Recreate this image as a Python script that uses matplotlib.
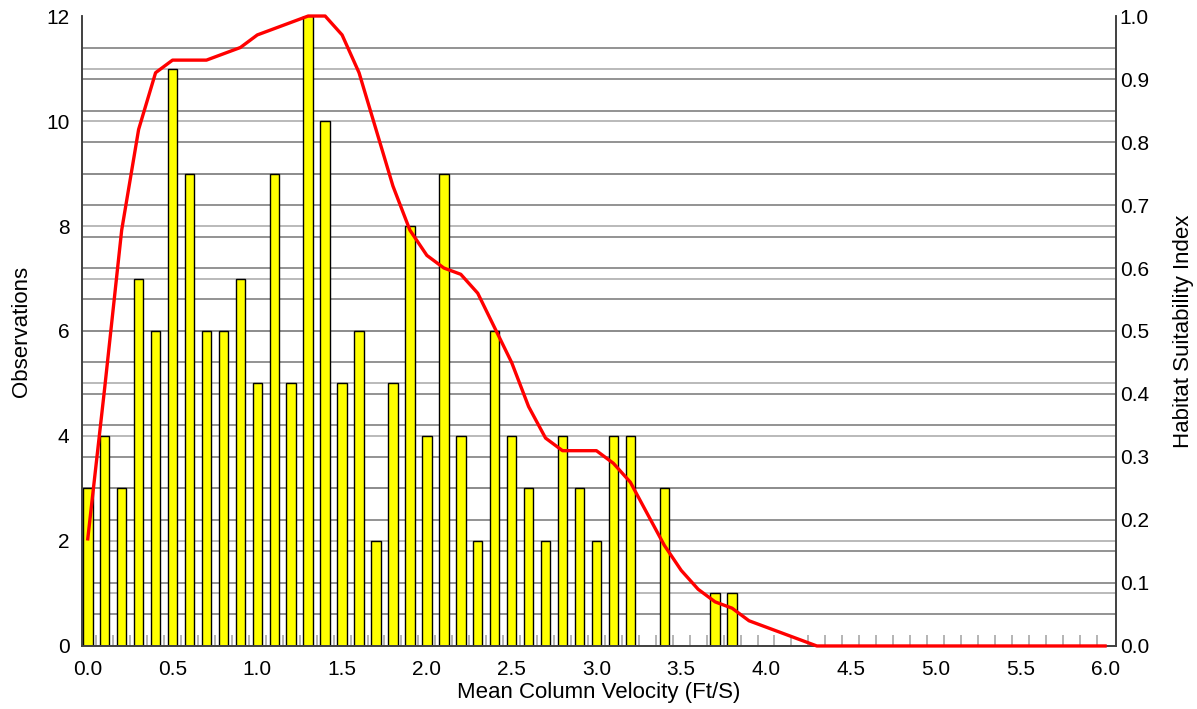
import numpy as np
import matplotlib
matplotlib.use("Agg")
import matplotlib.pyplot as plt
from matplotlib.ticker import FixedLocator

plt.rcParams['font.family'] = ['Liberation Sans', 'DejaVu Sans']

# Data
velocity = [round(0.1 * i, 1) for i in range(61)]
observations = [3, 4, 3, 7, 6, 11, 9, 6, 6, 7,
                5, 9, 5, 12, 10, 5, 6, 2, 5, 8,
                4, 9, 4, 2, 6, 4, 3, 2, 4, 3,
                2, 4, 4, 0, 3, 0, 0, 1, 1] + [0] * 22
hsi = [0.17, 0.41, 0.66, 0.82, 0.91, 0.93, 0.93, 0.93, 0.94, 0.95,
       0.97, 0.98, 0.99, 1.00, 1.00, 0.97, 0.91, 0.82, 0.73, 0.66,
       0.62, 0.60, 0.59, 0.56, 0.505, 0.45, 0.38, 0.33, 0.31, 0.31,
       0.31, 0.29, 0.26, 0.21, 0.16, 0.12, 0.09, 0.07, 0.06, 0.04,
       0.03, 0.02, 0.01, 0.0] + [0.0] * 17
left_ticks = [0, 2, 4, 6, 8, 10, 12]
right_ticks = [0.0, 0.1, 0.2, 0.3, 0.4, 0.5, 0.6, 0.7, 0.8, 0.9, 1.0]
x_ticks = [0.0, 0.5, 1.0, 1.5, 2.0, 2.5, 3.0, 3.5, 4.0, 4.5, 5.0, 5.5, 6.0]

fig = plt.figure(figsize=(11.97, 7.09), dpi=100)
ax = fig.add_axes([0.0685, 0.0889, 0.8635, 0.8885])
ax2 = ax.twinx()

ymax = 12.0
ax.set_ylim(0, ymax)
ax2.set_ylim(0, 1.0)
ax.set_xlim(-0.034, 6.062)

# gridlines (drawn on primary axis, beneath bars)
for v in np.arange(1, 12, 1):
    ax.axhline(v, color='#b4b4b4', lw=1.3, zorder=0)
for v in np.arange(0.05, 1.0, 0.05):
    ax.axhline(v * ymax, color='#8a8a8a', lw=1.3, zorder=0)

ax.bar(velocity, observations, width=0.056, color='#ffff00',
       edgecolor='black', linewidth=1.0, zorder=2)

ax2.plot(velocity, hsi, color='#ff0000', lw=2.4, zorder=3, clip_on=False)

fs = 15
lfs = 16
ax.set_yticks(left_ticks)
ax.set_yticklabels([str(t) for t in left_ticks], fontsize=fs)
ax2.set_yticks(right_ticks)
ax2.set_yticklabels([f"{t:.1f}" for t in right_ticks], fontsize=fs)
ax.set_xticks(x_ticks)
ax.set_xticklabels([f"{t:.1f}" for t in x_ticks], fontsize=fs)
ax.xaxis.set_minor_locator(FixedLocator(np.arange(0.05, 6.0, 0.1)))
ax.tick_params(axis='x', which='major', length=0, pad=10)
ax.tick_params(axis='x', which='minor', direction='in', length=8,
               color='#a8a8a8', width=1.2)
ax.tick_params(axis='y', length=0, pad=9)
ax2.tick_params(axis='y', length=0, pad=3)

ax.set_xlabel('Mean Column Velocity (Ft/S)', fontsize=lfs, labelpad=2)
ax.set_ylabel('Observations', fontsize=lfs, labelpad=10)
ax2.set_ylabel('Habitat Suitability Index', fontsize=lfs, labelpad=17)

for a in (ax, ax2):
    for s in a.spines.values():
        s.set_color('#404040')
        s.set_linewidth(1.2)
    a.spines['top'].set_visible(False)

fig.savefig('out.png', dpi=100)
